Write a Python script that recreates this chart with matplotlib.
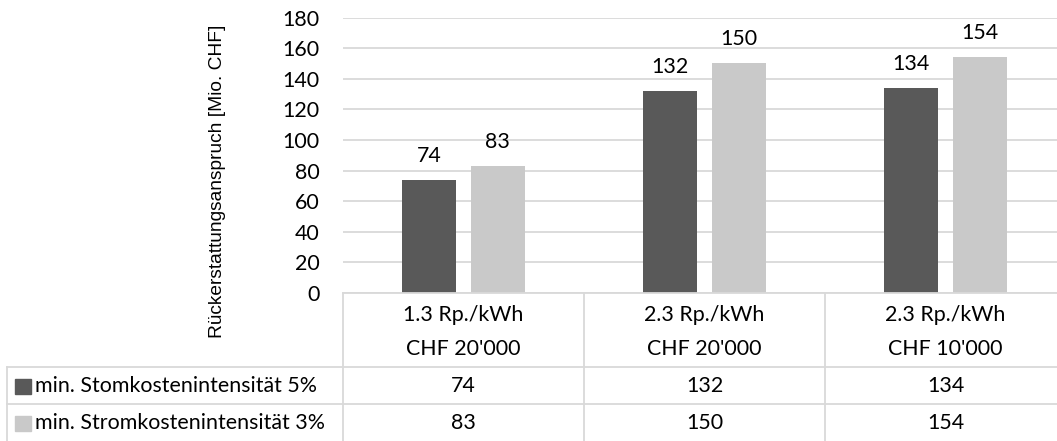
import matplotlib
matplotlib.use("Agg")
import matplotlib.pyplot as plt
from matplotlib.lines import Line2D
from matplotlib.patches import Rectangle
import matplotlib.transforms as mtransforms

# ---- data ----
rates = ["1.3 Rp./kWh", "2.3 Rp./kWh", "2.3 Rp./kWh"]
thresholds = ["CHF 20'000", "CHF 20'000", "CHF 10'000"]
series_names = ["min. Stomkostenintensität 5%", "min. Stromkostenintensität 3%"]
values_5pct = [74, 132, 134]
values_3pct = [83, 150, 154]
yticks = [0, 20, 40, 60, 80, 100, 120, 140, 160, 180]
ylabel = "Rückerstattungsanspruch [Mio. CHF]"

colors = ["#595959", "#c9c9c9"]
grid_c = "#d9d9d9"
W, H = 1057, 441
TF = "Lato"
FS = 15.4

fig = plt.figure(figsize=(W / 100, H / 100), dpi=100)
fx = lambda px: px / W
fy = lambda py: 1 - py / H

ax = fig.add_axes([fx(343), fy(293), (1066 - 343) / W, (293 - 17.5) / H])
ax.set_xlim(-0.5, len(rates) - 0.5)
ax.set_ylim(0, 180)

bw = 0.224
off = 0.1425
xs = list(range(len(rates)))
for vals, o, c in zip([values_5pct, values_3pct], [-off, off], colors):
    bars = ax.bar([x + o for x in xs], vals, width=bw, color=c, zorder=3)
    for x, v in zip(xs, vals):
        ax.annotate(str(v), (x + o, v), xytext=(0, 13), textcoords="offset points",
                    ha="center", va="baseline", family=TF, fontsize=FS, color="black")

ax.set_yticks(yticks)
ax.set_yticklabels([str(t) for t in yticks], family=TF, fontsize=FS)
ax.tick_params(axis="y", length=0, pad=17)
ax.set_xticks([])
ax.yaxis.grid(True, color=grid_c, lw=1.3)
ax.set_axisbelow(True)
for s in ax.spines.values():
    s.set_visible(False)

fig.text(fx(217), fy(181), ylabel, rotation=90, ha="center", va="center",
         family="Liberation Sans", fontsize=13.8, color="black")

# ---- data table ----
bt = mtransforms.blended_transform_factory(ax.transData, fig.transFigure)
lkw = dict(color=grid_c, lw=1.3, clip_on=False)
# horizontal lines
fig.add_artist(Line2D([fx(343), 1], [fy(293), fy(293)], transform=fig.transFigure, **lkw))
for py in [367, 404]:
    fig.add_artist(Line2D([fx(7), 1], [fy(py), fy(py)], transform=fig.transFigure, **lkw))
# vertical lines
for b in [-0.5 + i for i in range(len(rates))]:
    fig.add_artist(Line2D([b, b], [fy(293), 0], transform=bt, **lkw))
fig.add_artist(Line2D([fx(7), fx(7)], [fy(367), 0], transform=fig.transFigure, **lkw))

for i in xs:
    fig.text(i, fy(315), rates[i], transform=bt, ha="center", va="center",
             family=TF, fontsize=FS)
    fig.text(i, fy(349), thresholds[i], transform=bt, ha="center", va="center",
             family=TF, fontsize=FS)
    fig.text(i, fy(386), str(values_5pct[i]), transform=bt, ha="center", va="center",
             family=TF, fontsize=FS)
    fig.text(i, fy(423), str(values_3pct[i]), transform=bt, ha="center", va="center",
             family=TF, fontsize=FS)

for name, c, yc in zip(series_names, colors, [386, 423]):
    fig.add_artist(Rectangle((fx(15), fy(yc + 7.5)), 16 / W, 15 / H,
                             transform=fig.transFigure, color=c))
    fig.text(fx(35), fy(yc), name, ha="left", va="center", family=TF, fontsize=FS)

fig.savefig("out.png", dpi=100)
